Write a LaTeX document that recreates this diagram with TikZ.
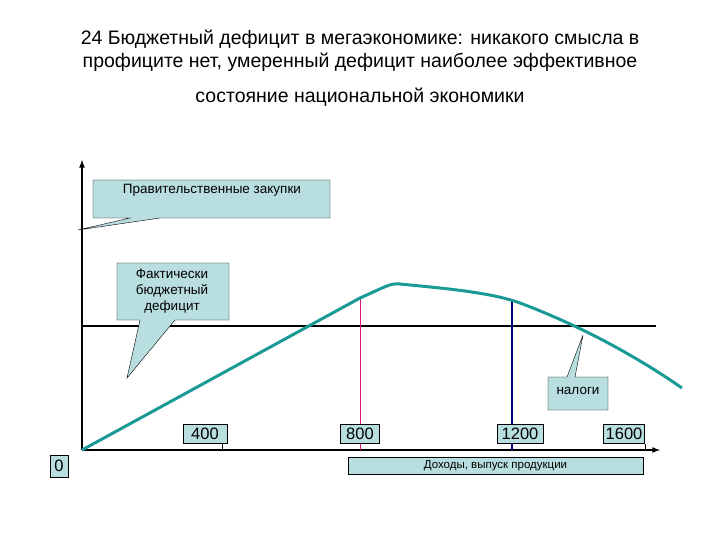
\documentclass[tikz,border=0pt]{standalone}
\usepackage{fontspec}
\setmainfont{Liberation Sans}
\definecolor{boxfill}{HTML}{B9DEE0}
\definecolor{curve}{HTML}{1A9A96}
\begin{document}
\begin{tikzpicture}[x=1pt,y=-1pt,
  lab/.style={draw,fill=boxfill,inner sep=1pt,font=\fontsize{16.5}{18}\selectfont},
  callout/.style={draw,fill=boxfill}]
\useasboundingbox (0,0) rectangle (720,540);
\node[align=center,font=\fontsize{19.5}{23}\selectfont] (t1) at (360,51) {24 Бюджетный дефицит в мегаэкономике: никакого смысла в\\профиците нет, умеренный дефицит наиболее эффективное};
\node[font=\fontsize{19.5}{22}\selectfont] (t2) at (360,97) {состояние национальной экономики};
% axes
\coordinate (O) at (82,450);
\coordinate (Y) at (82,160);
\coordinate (X) at (660,450);
\draw[line width=1.6pt,-latex] (O) -- (Y);
\draw[line width=1.6pt,-latex] (O) -- (X);
\coordinate (h1) at (82,326); \coordinate (h2) at (656,326);
\draw[line width=1.6pt] (h1) -- (h2);
% ticks
\foreach \x in {222,645} \draw (\x,450) -- (\x,444);
\draw[magenta!70!purple] (360,298) -- (360,450);
\draw[blue!50!black,line width=1.4pt] (512,300) -- (512,450);
% curve
\draw[curve,line width=3pt] (O) -- (360,298) .. controls (385,287) and (390,283) .. (400,284)
  .. controls (440,288) and (490,292) .. (520,303) .. controls (560,318) and (620,345) .. (682,388);
% callouts
\draw[callout] (93,180) -- (330,180) -- (330,218) -- (160,218) -- (78,230) -- (130,218) -- (93,218) -- cycle;
\node[font=\fontsize{13.5}{15}\selectfont] (c1) at (212,190) {Правительственные закупки};
\draw[callout] (117,263) -- (229,263) -- (229,320) -- (175,320) -- (127,378) -- (140,320) -- (117,320) -- cycle;
\node[align=center,font=\fontsize{13.5}{16}\selectfont] (c2) at (172,291) {Фактически\\бюджетный\\дефицит};
\draw[callout] (548,377) -- (567,377) -- (583,335) -- (575,377) -- (608,377) -- (608,410) -- (548,410) -- cycle;
\node[font=\fontsize{13.5}{15}\selectfont] (c3) at (578,391) {налоги};
% labels
\node[lab,minimum width=44pt,minimum height=19pt] (l400) at (205,434) {400};
\node[lab,minimum width=39pt,minimum height=19pt] (l800) at (360,434) {800};
\node[lab,minimum width=46pt,minimum height=19pt] (l1200) at (520,434) {1200};
\node[lab,minimum width=41pt,minimum height=19pt] (l1600) at (624,434) {1600};
\node[lab,minimum width=18pt,minimum height=22pt] (l0) at (59,466) {0};
\node[draw,fill=boxfill,minimum width=295pt,minimum height=17pt,inner sep=0pt,font=\fontsize{11.5}{12}\selectfont] (xl) at (495.5,465.5) {Доходы, выпуск продукции};
\end{tikzpicture}
\end{document}
